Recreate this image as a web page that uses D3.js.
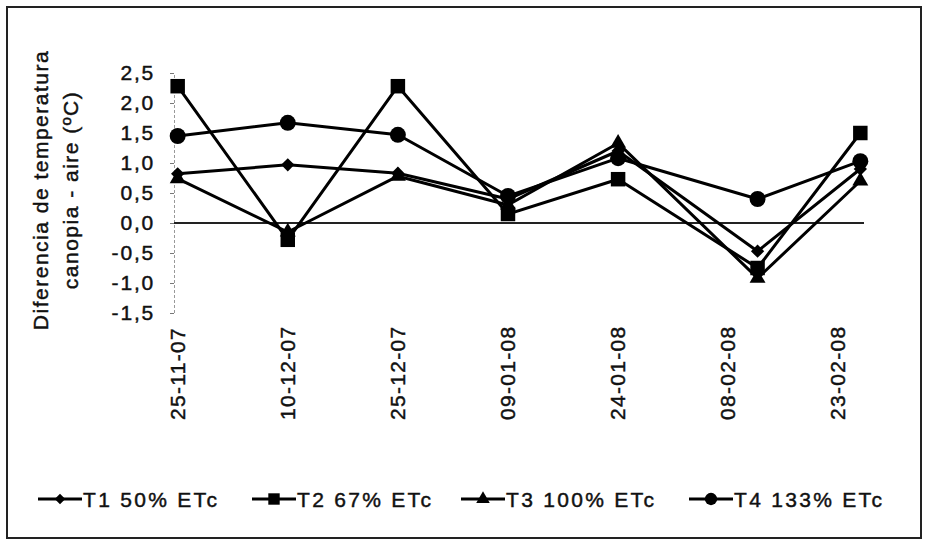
<!DOCTYPE html>
<html>
<head>
<meta charset="utf-8">
<script src="https://cdn.jsdelivr.net/npm/d3@7"></script>
<style>
  body { margin: 0; background: #fff; }
  text { font-family: "Liberation Sans", Arial, sans-serif; fill: #111; stroke: #111; stroke-width: 0.45px; }
</style>
</head>
<body>
<div id="chart"></div>
<script>
// tick labels every 15 days on the date axis
const tickLabels = ["25-11-07", "10-12-07", "25-12-07", "09-01-08", "24-01-08", "08-02-08", "23-02-08"];
// measurement dates (last two fall between ticks)
const pointDates = ["25-11-07", "10-12-07", "25-12-07", "09-01-08", "24-01-08", "12-02-08", "26-02-08"];

const T1 = [0.82, 0.97, 0.83, 0.40, 1.20, -0.47, 0.90];
const T2 = [2.28, -0.28, 2.28, 0.15, 0.73, -0.75, 1.50];
const T3 = [0.74, -0.15, 0.78, 0.30, 1.33, -0.92, 0.70];
const T4 = [1.45, 1.67, 1.47, 0.45, 1.08, 0.40, 1.03];

const seriesNames = ["T1 50% ETc", "T2 67% ETc", "T3 100% ETc", "T4 133% ETc"];
const yTicks = [2.5, 2.0, 1.5, 1.0, 0.5, 0.0, -0.5, -1.0, -1.5];

const width = 928, height = 544;
const parse = d3.utcParse("%d-%m-%y");
const day = 864e5;

const series = [
  {name: seriesNames[0], values: T1, shape: "diamond"},
  {name: seriesNames[1], values: T2, shape: "square"},
  {name: seriesNames[2], values: T3, shape: "triangle"},
  {name: seriesNames[3], values: T4, shape: "circle"}
];

const x = d3.scaleUtc()
    .domain([+parse(pointDates[0]) - day / 2, +parse(pointDates[pointDates.length - 1]) + day / 2])
    .range([174, 864]);

const y = d3.scaleLinear()
    .domain([-1.5, 2.5])
    .range([313, 73]);

// comma decimals, plain hyphen for minus
const fmt = v => d3.format(".1f")(v).replace(".", ",").replace("−", "-");

const symbolFor = (shape, big) => {
  if (shape === "diamond") return d3.symbol(d3.symbolSquare, big ? 88 : 56)();
  if (shape === "square") return d3.symbol(d3.symbolSquare, big ? 210 : 130)();
  if (shape === "triangle") return d3.symbol(d3.symbolTriangle, big ? 110 : 80)();
  return d3.symbol(d3.symbolCircle, big ? 200 : 120)();
};

const svg = d3.select("#chart").append("svg")
    .attr("width", width)
    .attr("height", height);

// outer frame
svg.append("rect")
    .attr("x", 7).attr("y", 7)
    .attr("width", 914).attr("height", 531)
    .attr("fill", "none")
    .attr("stroke", "#222")
    .attr("stroke-width", 2);

// y axis
const yAxis = d3.axisLeft(y)
    .tickValues(yTicks)
    .tickSize(4)
    .tickPadding(15)
    .tickFormat(fmt);

svg.append("g")
    .attr("transform", "translate(174,0)")
    .call(yAxis)
    .call(g => g.select(".domain").attr("stroke", "#999").attr("stroke-dasharray", "3,2"))
    .call(g => g.selectAll(".tick line").attr("stroke", "#777"))
    .call(g => g.selectAll(".tick text")
        .style("font-family", "'Liberation Sans', Arial, sans-serif")
        .style("font-size", "21px")
        .style("letter-spacing", "1.8px")
        .attr("fill", "#111"));

// zero line
svg.append("line")
    .attr("x1", x.range()[0]).attr("x2", x.range()[1])
    .attr("y1", y(0)).attr("y2", y(0))
    .attr("stroke", "#222")
    .attr("stroke-width", 2);

// x tick labels (rotated)
svg.append("g")
  .selectAll("text")
  .data(tickLabels)
  .join("text")
    .attr("transform", d => `translate(${x(parse(d)) + 7},420) rotate(-90)`)
    .style("font-size", "21px")
    .style("letter-spacing", "1.3px")
    .text(d => d);

// y title
const title = svg.append("g")
    .attr("transform", "translate(0,190) rotate(-90)")
    .attr("text-anchor", "middle")
    .style("font-size", "21px")
    .style("letter-spacing", "1.5px");
title.append("text").attr("x", 0).attr("y", 48).text("Diferencia de temperatura");
title.append("text").attr("x", 0).attr("y", 78).text("canopia - aire  (ºC)");

// lines
const line = d3.line()
    .x((d, i) => x(parse(pointDates[i])))
    .y(d => y(d));

svg.append("g")
  .selectAll("path")
  .data(series)
  .join("path")
    .attr("d", d => line(d.values))
    .attr("fill", "none")
    .attr("stroke", "#000")
    .attr("stroke-width", 3)
    .attr("stroke-linejoin", "round");

// markers
series.forEach(s => {
  svg.append("g")
    .selectAll("path")
    .data(s.values)
    .join("path")
      .attr("transform", (d, i) => `translate(${x(parse(pointDates[i]))},${y(d)})${s.shape === "diamond" ? " rotate(45)" : ""}`)
      .attr("d", symbolFor(s.shape, true))
      .attr("fill", "#000");
});

// legend
const legendX = [38, 252, 461, 689];
const legend = svg.append("g")
  .selectAll("g")
  .data(series)
  .join("g")
    .attr("transform", (d, i) => `translate(${legendX[i]},499)`);

legend.append("line")
    .attr("x1", 0).attr("x2", 44)
    .attr("stroke", "#000")
    .attr("stroke-width", 3);

legend.append("path")
    .attr("transform", d => `translate(22,0)${d.shape === "diamond" ? " rotate(45)" : ""}`)
    .attr("d", d => symbolFor(d.shape, false))
    .attr("fill", "#000");

legend.append("text")
    .attr("x", 45)
    .attr("y", 8)
    .style("font-size", "21px")
    .style("letter-spacing", "2.3px")
    .text(d => d.name);
</script>
</body>
</html>
